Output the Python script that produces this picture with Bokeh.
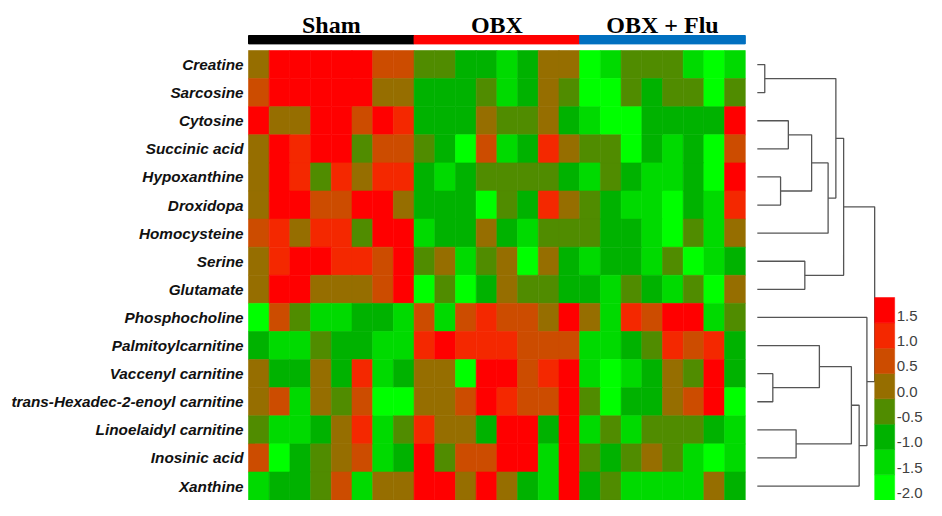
from bokeh.plotting import figure
from bokeh.models import Range1d, ColumnDataSource, LinearColorMapper
from bokeh.transform import transform
from bokeh.core.properties import value
from bokeh.embed import file_html
from bokeh.resources import INLINE

# ---------------- data ----------------
metabolites = ["Creatine", "Sarcosine", "Cytosine", "Succinic acid", "Hypoxanthine",
               "Droxidopa", "Homocysteine", "Serine", "Glutamate", "Phosphocholine",
               "Palmitoylcarnitine", "Vaccenyl carnitine",
               "trans-Hexadec-2-enoyl carnitine", "Linoelaidyl carnitine",
               "Inosinic acid", "Xanthine"]
groups = ["Sham", "OBX", "OBX + Flu"]
group_colors = ["#000000", "#FF0000", "#0070C0"]
samples_per_group = 8

creatine = [0.25, 1.75, 1.75, 1.75, 1.75, 1.75, 0.75, 0.75, -0.25, -0.25, -0.75, -0.75, -1.25, -0.75, 0.25, 0.25, -1.75, -1.25, -0.25, -0.25, -0.25, -1.25, -1.75, -1.25]
sarcosine = [0.75, 1.75, 1.75, 1.75, 1.75, 1.75, 0.25, 0.25, -0.75, -0.75, -0.75, -0.25, -1.25, -0.75, 0.25, -0.25, -1.75, -1.75, -0.25, -0.75, -0.25, -0.25, -1.75, -0.25]
cytosine = [1.75, 0.25, 0.25, 1.75, 1.75, 0.75, 1.75, 1.25, -0.75, -0.75, -0.75, 0.25, -0.25, -0.25, 0.25, -0.75, -1.25, -1.75, -1.75, -0.75, -0.75, -0.75, -0.75, 1.75]
succinic_acid = [0.25, 1.75, 1.25, 1.75, 1.75, -0.25, 0.75, 0.75, -0.25, -0.75, -1.75, 0.75, -1.25, -0.75, 1.25, 0.25, -0.25, -0.25, -1.75, -0.75, -1.25, -0.75, -1.75, 0.75]
hypoxanthine = [0.25, 1.75, 1.25, -0.25, 1.25, 0.25, 1.25, 1.25, -0.75, -1.25, -0.75, -0.25, -0.25, -0.25, -0.25, -0.75, -1.25, -0.25, -0.75, -1.25, -1.25, -0.75, -1.75, 1.75]
droxidopa = [0.25, 1.75, 1.75, 0.75, 0.75, 1.75, 1.75, 0.25, -0.75, -0.75, -0.75, -1.75, -0.25, -0.75, 1.25, 0.25, -0.25, -0.75, -1.25, -1.25, -1.75, -0.75, -1.25, 1.25]
homocysteine = [0.75, 1.25, 0.25, 1.25, 1.25, -0.25, 1.75, 1.75, -1.25, -0.75, -0.75, 0.25, -0.75, -1.25, -0.25, -0.25, -0.25, -0.75, -0.75, -1.25, -1.75, -0.25, -1.25, 0.25]
serine = [0.25, 1.25, 1.75, 1.75, 1.25, 1.25, 0.75, 1.75, -0.25, 0.25, -1.25, -0.25, 0.25, -1.75, 0.25, -0.75, -1.25, -0.75, -0.75, -1.25, -0.25, -1.75, -1.25, -0.75]
glutamate = [0.25, 1.75, 1.75, 0.25, 0.25, 0.25, 0.75, 1.75, -1.75, -0.25, -1.75, -0.75, 0.25, -0.25, -0.25, -0.75, -0.75, -1.25, -0.25, -0.75, -1.25, -0.25, -1.75, 0.25]
phosphocholine = [-1.75, 0.75, -0.25, -1.25, -1.25, -0.75, -0.75, -1.25, 0.75, -1.25, 0.75, 1.25, 0.75, 0.75, 0.25, 1.75, 0.25, -1.25, 1.25, 0.75, 1.75, 1.75, -1.25, -0.25]
palmitoylcarnitine = [-0.75, -1.25, -1.25, -0.25, -0.75, -0.75, -1.25, -1.25, 1.25, 1.75, 1.25, 1.25, 1.25, 0.75, 0.75, 0.75, -1.25, -1.25, -0.75, -0.25, 1.25, 0.75, 1.25, -0.75]
vaccenyl_carnitine = [0.25, -0.75, -0.75, 0.25, -0.75, 1.25, -1.25, -0.75, 0.25, 0.25, -1.75, 1.75, 1.75, 0.75, 1.25, 1.75, -1.25, -1.75, -1.25, -0.75, 0.25, -0.25, 1.75, -0.75]
hexadecenoyl_carnitine = [0.25, 0.75, -1.25, 0.25, -0.25, 0.75, -1.75, -1.75, 0.25, 0.25, 0.75, 1.75, 1.25, 0.75, 0.75, 1.75, -0.25, -1.75, -0.75, -0.75, 0.25, 0.75, 1.75, -1.75]
linoelaidyl_carnitine = [-0.25, -1.25, -1.25, -0.75, 0.25, 1.25, -1.25, -0.25, 1.25, 0.25, 0.25, -0.75, 1.75, 1.75, -0.75, 1.75, -1.25, -0.25, -1.25, -0.25, -0.25, -0.25, -0.75, -1.25]
inosinic_acid = [0.75, -1.75, -0.75, -0.25, 0.25, 0.75, -1.25, -0.75, 1.75, -0.25, 0.75, 0.75, 1.75, 1.75, -1.25, 1.75, -0.25, -0.75, -0.25, 0.25, -0.25, -1.25, -1.75, -1.25]
xanthine = [-1.25, -0.75, -0.75, -0.25, 0.75, -1.25, 0.25, 0.25, 1.75, 1.75, 0.25, 1.75, 0.25, -0.75, -1.25, 1.75, -0.75, -0.25, -1.25, -1.25, -1.25, -1.25, 0.25, -0.75]

rows = [creatine, sarcosine, cytosine, succinic_acid, hypoxanthine, droxidopa,
        homocysteine, serine, glutamate, phosphocholine, palmitoylcarnitine,
        vaccenyl_carnitine, hexadecenoyl_carnitine, linoelaidyl_carnitine,
        inosinic_acid, xanthine]

# hierarchical clustering of rows (leaf order = display order); new cluster ids start at 16
link_left = [0, 11, 4, 2, 13, 7, 19, 10, 22, 16, 25, 23, 27, 9, 26]
link_right = [1, 12, 5, 3, 14, 8, 18, 17, 6, 24, 21, 20, 15, 28, 29]
link_height = [7.7, 16, 24, 32, 40, 49, 56, 64, 73, 81, 89, 97, 105, 113, 121]

palette = ["#00FF00", "#00DA00", "#00B200", "#508C00", "#966E00", "#CC4C00", "#F42800", "#FF0000"]
scale_low, scale_high = -2.0, 2.0
legend_levels = [-1.75, -1.25, -0.75, -0.25, 0.25, 0.75, 1.25, 1.75]
legend_ticks = [1.5, 1.0, 0.5, 0.0, -0.5, -1.0, -1.5, -2.0]
legend_tick_labels = ["1.5", "1.0", "0.5", "0.0", "-0.5", "-1.0", "-1.5", "-2.0"]

# ---------------- layout (pixels) ----------------
W, H = 926, 500
CW, RH = 20.7, 28.1
HX0, HY0 = 248.0, 50.0
n_rows, n_cols = len(rows), len(rows[0])


def X(px):
    return (px - HX0) / CW


def Y(py):
    return (py - HY0) / RH


p = figure(width=W, height=H, x_range=Range1d(X(0), X(W)), y_range=Range1d(Y(H), Y(0)),
           output_backend="svg", toolbar_location=None, min_border=0,
           x_axis_location=None, y_axis_location=None)
p.grid.visible = False
p.outline_line_color = None
p.background_fill_color = "white"
p.border_fill_color = "white"

mapper = LinearColorMapper(palette=palette, low=scale_low, high=scale_high)

# heatmap
xs, ys, zs = [], [], []
for r, vals in enumerate(rows):
    for c, v in enumerate(vals):
        xs.append(c + 0.5)
        ys.append(r + 0.5)
        zs.append(v)
src = ColumnDataSource(dict(x=xs, y=ys, z=zs))
p.rect(x="x", y="y", width=1, height=1, source=src,
       fill_color=transform("z", mapper), line_color=transform("z", mapper), line_width=0.6)

# row labels
p.text(x=[X(HX0 - 5)] * n_rows, y=[i + 0.5 for i in range(n_rows)], text=metabolites,
       text_align="right", text_baseline="middle", text_font=value("Liberation Sans"),
       text_font_style="bold italic", text_font_size="15.3px", text_color="#111111")

# group bars and titles
g_left = [i * samples_per_group for i in range(len(groups))]
g_right = [(i + 1) * samples_per_group for i in range(len(groups))]
p.quad(left=g_left, right=g_right, top=Y(35), bottom=Y(43.4), color=group_colors)
p.text(x=[(a + b) / 2 for a, b in zip(g_left, g_right)], y=[Y(24)] * len(groups), text=groups,
       text_align="center", text_baseline="alphabetic", text_font=value("Liberation Serif"),
       text_font_style="bold", text_font_size="24px", text_color="#000000")

# dendrogram
LEAF_PX = HX0 + n_cols * CW + 12
SCALE = 0.97
pos = {i: i + 0.5 for i in range(n_rows)}
hgt = {i: 0.0 for i in range(n_rows)}
dx, dy = [], []
for k, (a, b, h) in enumerate(zip(link_left, link_right, link_height)):
    xa = X(LEAF_PX + hgt[a] * SCALE)
    xb = X(LEAF_PX + hgt[b] * SCALE)
    xh = X(LEAF_PX + h * SCALE)
    dx.append([xa, xh, xh, xb])
    dy.append([pos[a], pos[a], pos[b], pos[b]])
    pos[n_rows + k] = (pos[a] + pos[b]) / 2
    hgt[n_rows + k] = h
p.multi_line(dx, dy, line_color="#555555", line_width=1.3)

# colour legend
LEG_L = LEAF_PX + link_height[-1] * SCALE
LEG_R = LEG_L + 20
LEG_BOT, LEG_TOP = HY0 + n_rows * RH, 297.0
step = (LEG_BOT - LEG_TOP) / len(legend_levels)
lsrc = ColumnDataSource(dict(
    z=legend_levels,
    bottom=[Y(LEG_BOT - k * step) for k in range(len(legend_levels))],
    top=[Y(LEG_BOT - (k + 1) * step) for k in range(len(legend_levels))]))
p.quad(left=X(LEG_L), right=X(LEG_R), top="top", bottom="bottom", source=lsrc,
       fill_color=transform("z", mapper), line_color=transform("z", mapper), line_width=0.5)
p.text(x=[X(LEG_R + 2)] * len(legend_ticks),
       y=[Y(LEG_BOT - (t - scale_low) / 0.5 * step - 7) for t in legend_ticks],
       text=legend_tick_labels, text_align="left", text_baseline="middle",
       text_font=value("Liberation Sans"), text_font_size="15px", text_color="#404040")

open("out.html", "w").write(file_html(p, INLINE))
